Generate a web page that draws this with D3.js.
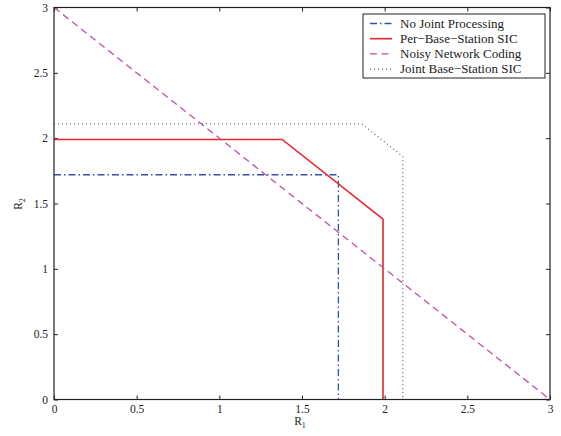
<!DOCTYPE html>
<html><head><meta charset="utf-8">
<script src="https://cdn.jsdelivr.net/npm/d3@7"></script>
<style>body{margin:0;background:#fff}svg{display:block}text{font-family:"Liberation Serif","Times New Roman",serif;fill:#222}</style>
</head><body>
<svg id="c" width="561" height="436"></svg>
<script>
const xTicks = [0, 0.5, 1, 1.5, 2, 2.5, 3];
const yTicks = [0, 0.5, 1, 1.5, 2, 2.5, 3];
const seriesNames = ["No Joint Processing", "Per\u2212Base\u2212Station SIC", "Noisy Network Coding", "Joint Base\u2212Station SIC"];
const noJointR1 = [0, 1.72, 1.72];
const noJointR2 = [1.72, 1.72, 0];
const perBsR1 = [0, 1.38, 1.99, 1.99];
const perBsR2 = [1.99, 1.99, 1.38, 0];
const nncR1 = [0, 3];
const nncR2 = [3, 0];
const jointR1 = [0, 1.86, 2.11, 2.11];
const jointR2 = [2.11, 2.11, 1.86, 0];

const svg = d3.select("#c");
const L = 54, R = 550, T = 7.5, B = 399.5;
const x = d3.scaleLinear().domain([0, 3]).range([L, R]);
const y = d3.scaleLinear().domain([0, 3]).range([B, T]);

const styles = [
  {color: "#3552a8", dash: "7,3,1.5,3", w: 1.3},
  {color: "#e8262c", dash: null, w: 1.6},
  {color: "#c050a4", dash: "7,4.5", w: 1.3},
  {color: "#555", dash: "1,3", w: 1.1}
];
const data = [
  noJointR1.map((v, i) => [v, noJointR2[i]]),
  perBsR1.map((v, i) => [v, perBsR2[i]]),
  nncR1.map((v, i) => [v, nncR2[i]]),
  jointR1.map((v, i) => [v, jointR2[i]])
];

// axes
const gx = svg.append("g").attr("transform", `translate(0,${B})`)
  .call(d3.axisBottom(x).tickValues(xTicks).tickFormat(d3.format("")).tickSizeInner(-4).tickSizeOuter(0));
const gy = svg.append("g").attr("transform", `translate(${L},0)`)
  .call(d3.axisLeft(y).tickValues(yTicks).tickFormat(d3.format("")).tickSizeInner(-4).tickSizeOuter(0).tickPadding(6));
const gxt = svg.append("g").attr("transform", `translate(0,${T})`)
  .call(d3.axisTop(x).tickValues(xTicks).tickFormat("").tickSizeInner(-4).tickSizeOuter(0));
const gyr = svg.append("g").attr("transform", `translate(${R},0)`)
  .call(d3.axisRight(y).tickValues(yTicks).tickFormat("").tickSizeInner(-4).tickSizeOuter(0));
[gx, gy, gxt, gyr].forEach(g => {
  g.select(".domain").remove();
  g.selectAll("line").attr("stroke", "#222");
  g.selectAll("text").style("font-family", '"Liberation Serif",serif').style("font-size", "11.5px").attr("fill", "#222");
});
gx.selectAll("text").attr("dy", null).attr("y", 13.5);

const line = d3.line().x(d => x(d[0])).y(d => y(d[1]));
data.forEach((d, i) => {
  svg.append("path").attr("d", line(d)).attr("fill", "none")
    .attr("stroke", styles[i].color).attr("stroke-width", styles[i].w)
    .attr("stroke-dasharray", styles[i].dash);
});

svg.append("rect").attr("x", L).attr("y", T).attr("width", R - L).attr("height", B - T)
  .attr("fill", "none").attr("stroke", "#222").attr("stroke-width", 1.2);

// axis labels
const xl = svg.append("text").attr("x", 300).attr("y", 425).attr("text-anchor", "middle").style("font-size", "11.5px");
xl.append("tspan").text("R");
xl.append("tspan").attr("dy", 3).style("font-size", "8px").text("1");
const yl = svg.append("text").attr("transform", "translate(22,204) rotate(-90)").attr("text-anchor", "middle").style("font-size", "11.5px");
yl.append("tspan").text("R");
yl.append("tspan").attr("dy", 3).style("font-size", "8px").text("2");

// legend
const lg = svg.append("g");
lg.append("rect").attr("x", 363).attr("y", 14).attr("width", 182).attr("height", 64)
  .attr("fill", "#fff").attr("stroke", "#222").attr("stroke-width", 1);
seriesNames.forEach((n, i) => {
  const yy = 23.5 + i * 15.2;
  lg.append("line").attr("x1", 370).attr("x2", 392).attr("y1", yy).attr("y2", yy)
    .attr("stroke", styles[i].color).attr("stroke-width", styles[i].w).attr("stroke-dasharray", styles[i].dash);
  lg.append("text").attr("x", 400).attr("y", yy + 4).style("font-size", "13px").text(n);
});
</script>
</body></html>
